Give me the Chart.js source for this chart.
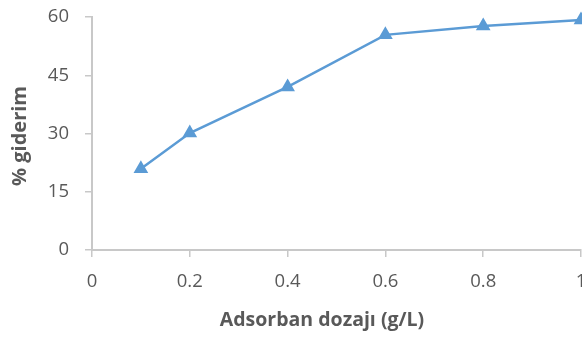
<!DOCTYPE html>
<html><head><meta charset="utf-8">
<script src="https://cdn.jsdelivr.net/npm/chart.js@4.4.1/dist/chart.umd.min.js"></script>
<style>html,body{margin:0;padding:0;background:#fff;overflow:hidden;width:582px;height:338px}#wrap{position:relative;width:582px;height:338px}</style>
</head><body><div id="wrap"><canvas id="c"></canvas></div>
<script>
const doses = [0.1, 0.2, 0.4, 0.6, 0.8, 1.0];
const removal = [20.9, 30.1, 42.0, 55.4, 57.7, 59.2];
const xTicks = [0, 0.2, 0.4, 0.6, 0.8, 1];
const yTicks = [0, 15, 30, 45, 60];
const xTitle = 'Adsorban dozajı (g/L)';
const yTitle = '% giderim';

const FONT = '"Open Sans", Lato, sans-serif';
const axisColor = '#c8c8c8';
const textColor = '#595959';

const titles = {
  id: 'titles',
  afterDraw(chart) {
    const ctx = chart.ctx, a = chart.chartArea;
    ctx.save();
    ctx.fillStyle = textColor;
    ctx.font = 'bold 19.5px ' + FONT;
    ctx.textAlign = 'center';
    ctx.textBaseline = 'middle';
    ctx.fillText(xTitle, 322, 320);
    ctx.translate(20, 136);
    ctx.rotate(-Math.PI / 2);
    ctx.font = 'bold 20px ' + FONT;
    ctx.fillText(yTitle, 0, 0);
    ctx.restore();
  }
};

new Chart(document.getElementById('c'), {
  type: 'scatter',
  data: {
    datasets: [{
      data: doses.map((d, i) => ({x: d, y: removal[i]})),
      showLine: true,
      borderColor: '#5B9BD5',
      backgroundColor: '#5B9BD5',
      borderWidth: 2.5,
      pointStyle: 'triangle',
      pointRadius: 6,
      pointHoverRadius: 6,
      clip: false
    }]
  },
  options: {
    responsive: true,
    maintainAspectRatio: false,
    animation: false,
    layout: {autoPadding: false, padding: {top: 17, right: 0, left: 0, bottom: 0}},
    plugins: {legend: {display: false}, tooltip: {enabled: false}},
    scales: {
      x: {
        type: 'linear', min: 0, max: 1,
        afterBuildTicks(s) { s.ticks = xTicks.map(v => ({value: v})); },
        afterFit(s) { s.height = 88; s.paddingRight = 1; s.paddingLeft = 0; },
        grid: {drawOnChartArea: false, drawTicks: true, tickLength: 7, color: axisColor, lineWidth: 1.5},
        border: {color: axisColor, width: 2},
        ticks: {color: textColor, font: {family: FONT, size: 18.5}, padding: 14, maxRotation: 0,
                callback: v => String(v)}
      },
      y: {
        min: 0, max: 60,
        afterBuildTicks(s) { s.ticks = yTicks.map(v => ({value: v})); },
        afterFit(s) { s.width = 92; s.paddingTop = 0; s.paddingBottom = 0; },
        grid: {drawOnChartArea: false, drawTicks: true, tickLength: 7, color: axisColor, lineWidth: 1.5},
        border: {color: axisColor, width: 2},
        ticks: {color: textColor, font: {family: FONT, size: 18.5}, padding: 16}
      }
    }
  },
  plugins: [titles]
});
</script></body></html>
